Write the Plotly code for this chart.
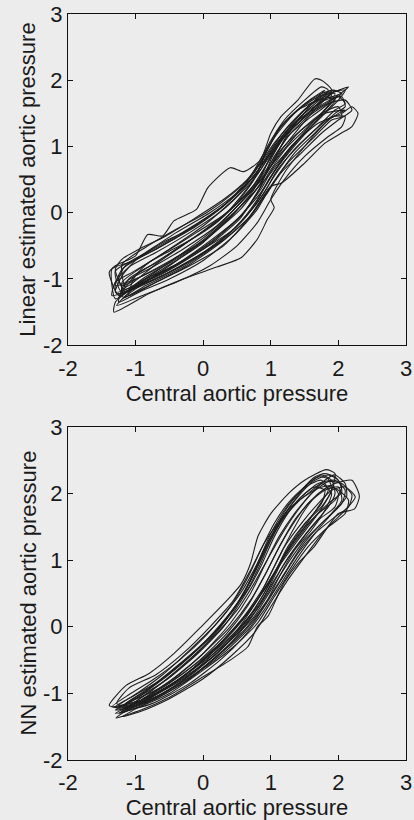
import plotly.graph_objects as go

# ---------------- data ----------------
X_TICKS = [-2, -1, 0, 1, 2, 3]
Y_TICKS = [-2, -1, 0, 1, 2, 3]
TICK_LABELS = ["-2", "-1", "0", "1", "2", "3"]
X_TITLE = "Central aortic pressure"
Y_TITLE_TOP = "Linear estimated aortic pressure"
Y_TITLE_BOTTOM = "NN estimated aortic pressure"

# Top panel: linear estimate vs central aortic pressure, one loop per beat
LINEAR_LOOPS = [
    [(-1.32,-1.5),(-0.8,-1.22),(-0.3,-1.0),(0.2,-0.82),(0.56,-0.68),(0.8,-0.4),(0.95,-0.1),(1.05,0.08),(1.0,0.2),(1.2,0.6),(1.5,1.0),(1.8,1.35),(2.0,1.5),(2.1,1.55),(1.8,1.5),(1.4,1.2),(1.0,0.7),(0.6,0.2),(0.1,-0.3),(-0.5,-0.75),(-1.0,-1.1),(-1.3,-1.35),(-1.32,-1.5)],
    [(-1.25,-1.25),(-1.39,-0.9),(-1.3,-0.8),(-1.0,-0.65),(-0.82,-0.33),(-0.6,-0.35),(-0.43,-0.12),(-0.1,0.05),(0.07,0.38),(0.4,0.68),(0.6,0.62),(0.85,0.8),(1.0,1.2),(1.15,1.45),(1.4,1.7),(1.65,2.02),(1.75,2.0),(1.9,1.85),(1.6,1.5),(1.2,1.0),(0.9,0.55),(0.5,0.1),(0.0,-0.45),(-0.6,-0.85),(-1.0,-1.1),(-1.25,-1.25)],
    [(-1.2,-1.3),(-0.7,-1.05),(-0.2,-0.8),(0.3,-0.5),(0.7,-0.05),(1.0,0.4),(1.16,0.45),(1.5,0.75),(1.8,1.05),(2.04,1.2),(2.2,1.3),(2.29,1.5),(2.2,1.6),(2.05,1.5),(1.7,1.35),(1.3,1.0),(1.0,0.6),(0.6,0.15),(0.1,-0.35),(-0.5,-0.8),(-1.0,-1.15),(-1.2,-1.3)],
    [(-1.28,-1.22),(-1.0,-1.12),(-0.5,-0.9),(0.0,-0.6),(0.5,-0.2),(0.8,0.2),(1.0,0.55),(1.3,0.95),(1.6,1.3),(1.85,1.62),(1.95,1.8),(1.8,1.78),(1.5,1.55),(1.2,1.2),(0.95,0.8),(0.7,0.45),(0.3,0.05),(-0.2,-0.3),(-0.7,-0.6),(-1.1,-0.82),(-1.3,-1.05),(-1.28,-1.22)],
    [(-1.22,-1.18),(-0.9,-1.02),(-0.4,-0.78),(0.1,-0.45),(0.55,-0.05),(0.85,0.35),(1.05,0.7),(1.35,1.05),(1.7,1.45),(1.95,1.72),(2.05,1.8),(1.9,1.85),(1.6,1.65),(1.25,1.3),(1.0,0.95),(0.75,0.55),(0.35,0.15),(-0.15,-0.2),(-0.65,-0.5),(-1.05,-0.72),(-1.3,-0.88),(-1.22,-1.18)],
    [(-1.18,-1.28),(-0.85,-1.1),(-0.3,-0.82),(0.2,-0.48),(0.6,-0.1),(0.9,0.3),(1.1,0.65),(1.4,1.0),(1.7,1.3),(1.95,1.55),(2.1,1.65),(2.0,1.75),(1.7,1.6),(1.35,1.35),(1.05,1.0),(0.8,0.62),(0.45,0.2),(0.0,-0.2),(-0.5,-0.55),(-0.95,-0.85),(-1.2,-1.05),(-1.18,-1.28)],
    [(-1.3,-1.3),(-1.05,-1.15),(-0.6,-0.95),(-0.1,-0.68),(0.4,-0.3),(0.75,0.1),(0.95,0.45),(1.2,0.85),(1.5,1.2),(1.8,1.5),(2.0,1.7),(2.1,1.85),(1.9,1.82),(1.6,1.6),(1.3,1.3),(1.0,0.9),(0.7,0.5),(0.3,0.1),(-0.2,-0.25),(-0.7,-0.55),(-1.1,-0.75),(-1.35,-0.85),(-1.3,-1.3)],
    [(-1.15,-1.2),(-0.8,-1.0),(-0.3,-0.72),(0.2,-0.38),(0.6,0.0),(0.85,0.4),(1.0,0.8),(1.2,1.15),(1.45,1.4),(1.7,1.65),(1.85,1.85),(1.75,1.9),(1.5,1.7),(1.2,1.4),(0.95,1.0),(0.8,0.6),(0.5,0.3),(0.1,0.0),(-0.4,-0.3),(-0.85,-0.6),(-1.15,-0.8),(-1.25,-1.0),(-1.15,-1.2)],
    [(-1.25,-1.35),(-0.95,-1.2),(-0.5,-1.0),(0.0,-0.72),(0.45,-0.35),(0.8,0.05),(1.0,0.4),(1.25,0.75),(1.6,1.1),(1.9,1.4),(2.05,1.45),(2.0,1.6),(1.75,1.5),(1.45,1.25),(1.15,0.95),(0.9,0.55),(0.6,0.2),(0.2,-0.2),(-0.3,-0.55),(-0.8,-0.85),(-1.15,-1.05),(-1.25,-1.35)],
    [(-1.2,-1.1),(-0.9,-0.95),(-0.45,-0.7),(0.05,-0.4),(0.45,-0.02),(0.75,0.35),(0.95,0.75),(1.15,1.1),(1.4,1.35),(1.65,1.6),(1.9,1.8),(2.15,1.9),(2.0,1.78),(1.7,1.7),(1.4,1.55),(1.1,1.25),(0.9,0.85),(0.65,0.5),(0.3,0.2),(-0.15,-0.1),(-0.55,-0.35),(-0.95,-0.55),(-1.2,-0.7),(-1.3,-0.85),(-1.2,-1.1)],
    [(-1.3,-1.2),(-1.2,-0.95),(-1.0,-0.72),(-0.7,-0.55),(-0.4,-0.38),(-0.1,-0.2),(0.3,0.1),(0.6,0.4),(0.85,0.75),(1.05,1.05),(1.3,1.35),(1.55,1.6),(1.8,1.75),(1.95,1.7),(1.7,1.4),(1.4,1.1),(1.1,0.7),(0.85,0.3),(0.5,-0.1),(0.0,-0.5),(-0.5,-0.85),(-1.0,-1.1),(-1.3,-1.2)],
    [(-1.1,-1.25),(-0.7,-1.05),(-0.2,-0.78),(0.3,-0.42),(0.7,-0.05),(0.95,0.3),(1.15,0.6),(1.45,0.9),(1.75,1.2),(2.0,1.4),(2.2,1.55),(2.1,1.7),(1.85,1.65),(1.55,1.45),(1.25,1.15),(1.0,0.75),(0.75,0.4),(0.4,0.05),(-0.1,-0.35),(-0.6,-0.7),(-1.0,-0.95),(-1.1,-1.25)],
    [(-1.25,-1.28),(-1.05,-1.0),(-0.8,-0.75),(-0.5,-0.58),(-0.2,-0.42),(0.2,-0.15),(0.5,0.15),(0.75,0.5),(0.95,0.95),(1.15,1.3),(1.4,1.55),(1.7,1.75),(1.9,1.82),(1.85,1.65),(1.6,1.45),(1.3,1.2),(1.05,0.85),(0.85,0.45),(0.55,0.05),(0.1,-0.35),(-0.4,-0.7),(-0.9,-1.0),(-1.25,-1.28)],
    [(-1.2,-1.22),(-0.95,-1.08),(-0.6,-0.92),(-0.2,-0.68),(0.2,-0.4),(0.55,-0.08),(0.8,0.3),(1.0,0.65),(1.25,1.0),(1.55,1.3),(1.85,1.6),(2.0,1.78),(1.9,1.7),(1.65,1.55),(1.35,1.3),(1.05,0.95),(0.85,0.55),(0.6,0.25),(0.25,-0.1),(-0.25,-0.45),(-0.75,-0.78),(-1.1,-1.0),(-1.2,-1.22)],
    [(-1.35,-1.25),(-1.1,-1.18),(-0.7,-1.0),(-0.25,-0.75),(0.25,-0.45),(0.65,-0.1),(0.9,0.25),(1.1,0.55),(1.35,0.9),(1.65,1.2),(1.95,1.5),(2.1,1.6),(2.05,1.75),(1.8,1.7),(1.5,1.5),(1.2,1.15),(0.95,0.75),(0.7,0.35),(0.35,0.0),(-0.1,-0.3),(-0.6,-0.62),(-1.05,-0.9),(-1.3,-1.05),(-1.35,-1.25)],
    [(-1.15,-1.12),(-0.85,-0.9),(-0.5,-0.62),(-0.1,-0.35),(0.3,-0.05),(0.6,0.3),(0.85,0.65),(1.05,1.0),(1.3,1.3),(1.6,1.55),(1.85,1.75),(1.95,1.85),(1.75,1.8),(1.45,1.6),(1.15,1.3),(0.95,0.95),(0.75,0.6),(0.45,0.3),(0.05,0.0),(-0.4,-0.25),(-0.85,-0.52),(-1.2,-0.78),(-1.15,-1.12)],
    [(-1.28,-1.4),(-0.9,-1.25),(-0.4,-1.05),(0.1,-0.8),(0.5,-0.5),(0.8,-0.15),(1.0,0.2),(1.2,0.5),(1.5,0.85),(1.85,1.15),(2.05,1.3),(2.1,1.45),(1.9,1.45),(1.6,1.2),(1.3,0.9),(1.05,0.55),(0.8,0.15),(0.45,-0.25),(0.0,-0.55),(-0.5,-0.85),(-1.0,-1.12),(-1.28,-1.4)],
    [(-1.3,-1.1),(-1.2,-0.85),(-0.95,-0.68),(-0.6,-0.45),(-0.3,-0.3),(0.05,-0.08),(0.4,0.2),(0.7,0.55),(0.9,0.9),(1.1,1.2),(1.35,1.5),(1.6,1.72),(1.8,1.85),(1.7,1.75),(1.45,1.45),(1.2,1.1),(1.0,0.7),(0.75,0.3),(0.4,-0.05),(-0.05,-0.45),(-0.6,-0.8),(-1.05,-1.02),(-1.3,-1.1)],
]

# Bottom panel: neural-network estimate vs central aortic pressure
NN_LOOPS = [
    [(-1.39,-1.18),(-1.14,-0.88),(-0.8,-0.7),(-0.43,-0.4),(-0.03,0.0),(0.41,0.46),(0.56,0.64),(0.7,0.95),(0.81,1.36),(1.0,1.7),(1.26,2.0),(1.5,2.2),(1.82,2.36),(1.95,2.3),(1.9,2.05),(1.7,1.7),(1.4,1.3),(1.15,0.95),(0.9,0.55),(0.6,0.15),(0.2,-0.3),(-0.3,-0.75),(-0.8,-1.05),(-1.2,-1.22),(-1.39,-1.18)],
    [(-1.2,-1.3),(-0.8,-1.08),(-0.3,-0.75),(0.2,-0.3),(0.6,0.15),(0.9,0.6),(1.1,1.0),(1.3,1.4),(1.5,1.75),(1.7,2.0),(1.95,2.15),(2.2,2.2),(2.31,1.96),(2.24,1.77),(2.0,1.7),(1.64,1.2),(1.4,0.95),(1.2,0.67),(1.1,0.46),(0.96,0.16),(0.8,0.0),(0.66,-0.3),(0.4,-0.5),(0.0,-0.75),(-0.52,-1.07),(-0.92,-1.25),(-1.29,-1.37),(-1.2,-1.3)],
    [(-1.3,-1.2),(-1.0,-1.02),(-0.6,-0.78),(-0.2,-0.45),(0.2,-0.05),(0.5,0.35),(0.75,0.8),(0.95,1.2),(1.15,1.6),(1.35,1.9),(1.55,2.15),(1.75,2.28),(1.9,2.2),(1.95,2.0),(1.85,1.8),(1.6,1.5),(1.3,1.1),(1.05,0.7),(0.8,0.3),(0.45,-0.1),(0.0,-0.5),(-0.5,-0.88),(-1.0,-1.15),(-1.3,-1.2)],
    [(-1.2,-1.22),(-0.85,-0.98),(-0.45,-0.65),(0.0,-0.25),(0.35,0.15),(0.65,0.55),(0.85,0.95),(1.0,1.3),(1.2,1.65),(1.45,1.95),(1.7,2.15),(1.95,2.2),(2.1,2.05),(2.05,1.85),(1.8,1.6),(1.5,1.3),(1.25,0.95),(1.0,0.55),(0.75,0.15),(0.4,-0.2),(-0.1,-0.6),(-0.6,-0.95),(-1.0,-1.18),(-1.2,-1.22)],
    [(-1.25,-1.3),(-0.9,-1.1),(-0.5,-0.82),(-0.05,-0.45),(0.4,0.0),(0.7,0.4),(0.95,0.85),(1.15,1.25),(1.35,1.6),(1.6,1.9),(1.85,2.1),(2.0,2.05),(2.15,1.9),(2.1,1.7),(1.85,1.5),(1.55,1.2),(1.3,0.85),(1.05,0.45),(0.8,0.05),(0.45,-0.3),(0.0,-0.65),(-0.5,-1.0),(-0.95,-1.2),(-1.25,-1.3)],
    [(-1.15,-1.15),(-0.8,-0.92),(-0.4,-0.6),(0.05,-0.2),(0.45,0.25),(0.7,0.7),(0.88,1.1),(1.05,1.45),(1.25,1.8),(1.45,2.05),(1.65,2.25),(1.8,2.3),(1.95,2.25),(2.05,2.1),(1.95,1.9),(1.7,1.7),(1.45,1.4),(1.2,1.05),(0.95,0.65),(0.7,0.25),(0.35,-0.15),(-0.1,-0.55),(-0.6,-0.9),(-1.15,-1.15)],
    [(-1.3,-1.25),(-1.0,-1.08),(-0.55,-0.8),(-0.1,-0.42),(0.3,0.0),(0.6,0.45),(0.85,0.9),(1.05,1.35),(1.25,1.7),(1.45,1.95),(1.65,2.1),(1.8,2.05),(1.75,1.85),(1.55,1.6),(1.3,1.25),(1.1,0.9),(0.9,0.5),(0.6,0.05),(0.25,-0.35),(-0.2,-0.72),(-0.7,-1.02),(-1.1,-1.22),(-1.3,-1.25)],
    [(-1.1,-1.2),(-0.75,-0.95),(-0.35,-0.62),(0.1,-0.2),(0.5,0.25),(0.78,0.7),(1.0,1.1),(1.2,1.45),(1.4,1.75),(1.6,2.0),(1.85,2.18),(2.05,2.15),(2.2,1.98),(2.15,1.8),(1.95,1.65),(1.65,1.4),(1.4,1.1),(1.15,0.7),(0.9,0.3),(0.6,-0.08),(0.2,-0.45),(-0.3,-0.85),(-0.75,-1.1),(-1.1,-1.2)],
    [(-1.28,-1.15),(-1.1,-0.92),(-0.7,-0.72),(-0.3,-0.4),(0.1,0.0),(0.45,0.4),(0.7,0.85),(0.9,1.25),(1.1,1.55),(1.3,1.8),(1.55,2.0),(1.75,2.15),(1.9,2.0),(1.8,1.75),(1.6,1.45),(1.35,1.15),(1.15,0.8),(0.95,0.4),(0.7,0.0),(0.35,-0.35),(-0.1,-0.7),(-0.6,-1.0),(-1.05,-1.2),(-1.28,-1.15)],
    [(-1.2,-1.35),(-0.85,-1.15),(-0.4,-0.88),(0.05,-0.5),(0.5,-0.05),(0.8,0.4),(1.0,0.8),(1.2,1.2),(1.45,1.55),(1.7,1.85),(1.9,2.05),(2.1,2.1),(2.25,1.95),(2.1,1.75),(1.8,1.45),(1.5,1.05),(1.25,0.7),(1.0,0.3),(0.75,-0.1),(0.4,-0.45),(0.0,-0.78),(-0.5,-1.08),(-0.95,-1.28),(-1.2,-1.35)],
    [(-1.25,-1.18),(-0.95,-0.98),(-0.6,-0.72),(-0.2,-0.35),(0.2,0.05),(0.55,0.5),(0.8,0.95),(1.0,1.4),(1.2,1.75),(1.4,2.0),(1.6,2.15),(1.75,2.2),(1.85,2.05),(1.7,1.8),(1.5,1.5),(1.25,1.15),(1.05,0.75),(0.85,0.35),(0.55,-0.05),(0.15,-0.45),(-0.35,-0.8),(-0.85,-1.08),(-1.25,-1.18)],
    [(-1.3,-1.3),(-0.95,-1.12),(-0.5,-0.85),(-0.05,-0.5),(0.35,-0.1),(0.65,0.3),(0.9,0.75),(1.1,1.15),(1.3,1.5),(1.55,1.85),(1.8,2.05),(2.0,2.1),(2.05,1.9),(1.9,1.7),(1.65,1.4),(1.4,1.05),(1.15,0.65),(0.9,0.25),(0.6,-0.15),(0.25,-0.5),(-0.2,-0.85),(-0.75,-1.15),(-1.3,-1.3)],
    [(-1.15,-1.25),(-0.8,-1.02),(-0.4,-0.75),(0.0,-0.4),(0.4,0.05),(0.7,0.5),(0.92,0.95),(1.12,1.35),(1.35,1.7),(1.6,2.0),(1.8,2.2),(1.95,2.28),(2.1,2.15),(2.12,1.95),(1.95,1.75),(1.7,1.5),(1.45,1.2),(1.2,0.8),(0.95,0.4),(0.65,0.0),(0.3,-0.35),(-0.2,-0.78),(-0.7,-1.08),(-1.15,-1.25)],
    [(-1.35,-1.2),(-1.1,-1.02),(-0.75,-0.8),(-0.35,-0.5),(0.05,-0.12),(0.4,0.3),(0.65,0.72),(0.85,1.15),(1.05,1.55),(1.25,1.85),(1.5,2.1),(1.7,2.25),(1.85,2.22),(1.9,2.05),(1.75,1.8),(1.5,1.55),(1.25,1.2),(1.05,0.8),(0.8,0.4),(0.5,0.0),(0.1,-0.42),(-0.4,-0.82),(-0.9,-1.1),(-1.35,-1.2)],
    [(-1.22,-1.28),(-0.9,-1.05),(-0.45,-0.72),(-0.05,-0.35),(0.3,0.05),(0.6,0.5),(0.82,0.98),(1.0,1.35),(1.2,1.65),(1.45,1.92),(1.7,2.08),(1.9,2.12),(2.0,2.0),(1.95,1.8),(1.7,1.6),(1.45,1.3),(1.2,0.95),(0.98,0.55),(0.72,0.15),(0.4,-0.25),(-0.05,-0.65),(-0.6,-1.0),(-1.22,-1.28)],
    [(-1.25,-1.22),(-0.9,-1.0),(-0.55,-0.75),(-0.15,-0.4),(0.25,0.0),(0.55,0.42),(0.78,0.85),(0.98,1.3),(1.18,1.65),(1.4,1.95),(1.62,2.18),(1.85,2.28),(2.0,2.2),(2.05,2.02),(1.85,1.85),(1.6,1.6),(1.35,1.3),(1.12,0.92),(0.9,0.5),(0.65,0.1),(0.3,-0.3),(-0.15,-0.7),(-0.7,-1.05),(-1.25,-1.22)],
]

# ---------------- figure ----------------
BG = "#ececec"
LINE = "#1e1e1e"
FONT = "Liberation Sans, Arial, Helvetica, sans-serif"
TXT = "#1a1a1a"

fig = go.Figure()

def add_loops(loops, xa, ya):
    for loop in loops:
        fig.add_trace(go.Scatter(
            x=[p[0] for p in loop], y=[p[1] for p in loop],
            mode="lines", xaxis=xa, yaxis=ya,
            line=dict(color=LINE, width=1.1, shape="spline", smoothing=0.6),
            showlegend=False, hoverinfo="skip"))

add_loops(LINEAR_LOOPS, "x", "y")
add_loops(NN_LOOPS, "x2", "y2")

axis_common = dict(
    range=[-2, 3], showgrid=False, zeroline=False,
    showline=True, linecolor="#111", linewidth=1, mirror="ticks",
    ticks="inside", ticklen=5, tickcolor="#111",
    tickfont=dict(family=FONT, size=22, color=TXT),
    ticklabeloverflow="allow", automargin=False,
)

def xtitle(text):
    return dict(text=text, font=dict(family=FONT, size=22, color=TXT), standoff=2)

fig.update_layout(
    width=414, height=820,
    margin=dict(l=68, r=8, t=14, b=60),
    paper_bgcolor=BG, plot_bgcolor=BG,
    xaxis=dict(**axis_common, tickvals=X_TICKS, ticktext=TICK_LABELS, ticklabelstandoff=3,
               domain=[0, 1], anchor="y", title=xtitle(X_TITLE)),
    yaxis=dict(**axis_common, tickvals=Y_TICKS, ticktext=TICK_LABELS,
               domain=[0.556, 1.0], anchor="x"),
    xaxis2=dict(**axis_common, tickvals=X_TICKS, ticktext=TICK_LABELS, ticklabelstandoff=3,
                domain=[0, 1], anchor="y2", title=xtitle(X_TITLE)),
    yaxis2=dict(**axis_common, tickvals=Y_TICKS, ticktext=TICK_LABELS,
                domain=[0.0, 0.4464], anchor="x2"),
)

for text, yref in ((Y_TITLE_TOP, "y domain"), (Y_TITLE_BOTTOM, "y2 domain")):
    fig.add_annotation(
        text=text, textangle=-90, showarrow=False,
        xref="paper", x=-0.1183, xanchor="center",
        yref=yref, y=0.5, yanchor="middle",
        font=dict(family=FONT, size=22, color=TXT))

# remove the browser's default 8px body margin so the figure fills the window
fig.write_html("out.html", config={"displayModeBar": False},
               post_script="document.body.style.margin='0';document.body.style.background='#ececec';")
